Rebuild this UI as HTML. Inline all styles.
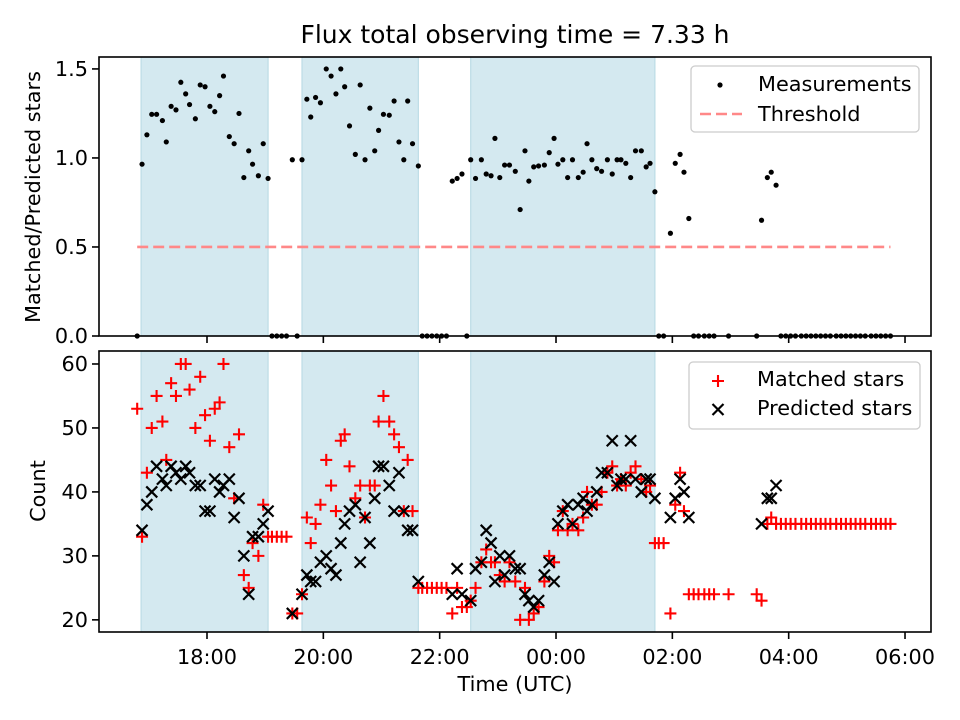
<!DOCTYPE html>
<html><head><meta charset="utf-8"><style>
html,body{margin:0;padding:0;background:#fff;}
svg{display:block;font-family:"DejaVu Sans","Liberation Sans",sans-serif;}
</style></head><body>
<svg id="chart" width="960" height="720" viewBox="0 0 960 720" xmlns="http://www.w3.org/2000/svg">
<rect x="0" y="0" width="960" height="720" fill="#fff"/>
<text x="515" y="43" font-size="25" text-anchor="middle">Flux total observing time = 7.33 h</text>
<g id="gtop"></g>
<g id="gbot"></g>
<text transform="translate(40,197) rotate(-90)" font-size="20.8" text-anchor="middle">Matched/Predicted stars</text>
<text transform="translate(45,491) rotate(-90)" font-size="20.8" text-anchor="middle">Count</text>
<text x="515" y="691" font-size="20.8" text-anchor="middle">Time (UTC)</text>
</svg>
<script>
// minutes after 16:00 UTC
const times=[48,53,58,63,68,74,78,83,88,93,98,102,108,113,118,123,128,133,137,143,148,153,158,163,167,173,178,183,187,192,197,202,208,213,218,223,227,232,237,243,248,253,258,262,267,273,278,283,288,293,297,302,308,313,318,323,327,332,338,342,347,352,357,362,367,373,378,383,388,392,397,403,408,413,417,422,427,432,438,443,448,452,457,462,468,473,478,482,487,492,497,503,508,512,517,522,527,533,538,543,547,552,557,562,568,573,577,582,586,591,598,603,608,612,617,622,627,633,638,643,658,687,692,698,702,707,712,717,722,727,733,738,743,748,753,758,763,769,774,779,784,789,794,799,805,810,815,820,825];
const ratio=[0,0.965,1.13,1.245,1.245,1.21,1.09,1.29,1.27,1.425,1.36,1.30,1.22,1.41,1.40,1.29,1.26,1.35,1.46,1.12,1.08,1.25,0.89,1.04,0.965,0.90,1.08,0.885,0,0,0,0,0.99,0,0.99,1.33,1.23,1.34,1.31,1.50,1.46,1.36,1.50,1.40,1.18,1.02,1.41,0.99,1.28,1.04,1.155,1.245,1.24,1.32,1.09,0.99,1.32,1.08,0.955,0,0,0,0,0,0,0.87,0.885,0.91,0,0.99,0.885,0.99,0.91,0.90,1.11,0.89,0.96,0.96,0.925,0.71,1.04,0.87,0.95,0.955,0.96,1.03,1.11,0.965,0.99,0.89,0.99,0.89,0.92,1.08,0.99,0.94,0.925,0.99,0.91,0.99,0.99,0.97,0.89,1.04,1.04,0.95,0.97,0.81,0,0,0.577,0.97,1.02,0.92,0.66,0,0,0,0,0,0,0,0.65,0.89,0.92,0.847,0,0,0,0,0,0,0,0,0,0,0,0,0,0,0,0,0,0,0,0,0,0,0];
const matched=[53,33,43,50,55,51,45,57,55,60,60,56,50,58,52,48,53,54,60,47,39,49,27,25,32,30,38,33,33,33,33,33,21,21,24,36,32,35,38,45,41,37,48,49,44,39,41,36,41,41,51,55,51,49,47,37,45,37,25,25,25,25,25,25,25,21,25,22,22,23,25,29,31,29,29,27,26,29,26,20,25,20,21,22,26,30,29,34,37,34,35,34,36,40,38,38,40,43,44,41,42,41,43,44,42,40,41,32,32,32,21,38,43,37,24,24,24,24,24,24,24,24,23,35,36,35,35,35,35,35,35,35,35,35,35,35,35,35,35,35,35,35,35,35,35,35,35,35,35];
const predicted=[null,34,38,40,44,42,41,44,43,42,44,43,41,41,37,37,42,40,41,42,36,39,30,24,33,33,35,37,null,null,null,null,21,null,24,27,26,26,29,30,28,27,32,35,37,38,29,36,32,39,44,44,41,37,43,37,34,34,26,null,null,null,null,null,null,24,28,24,null,23,28,29,34,32,26,30,27,30,28,28,24,23,22,23,27,29,26,35,37,38,35,38,39,37,38,40,43,43,48,41,42,42,48,42,40,42,42,39,null,null,36,39,42,40,36,null,null,null,null,null,null,null,35,39,39,41,null,null,null,null,null,null,null,null,null,null,null,null,null,null,null,null,null,null,null,null,null,null,null];
const spanStart=[52,218,392];
const spanEnd=[183,338,582];
const threshold=[0.5];
const thresholdRange=[48,825];
const xTicks=[120,240,360,480,600,720,840];
const xTickLabels=["18:00","20:00","22:00","00:00","02:00","04:00","06:00"];
const topTicks=[0,0.5,1.0,1.5];
const topTickLabels=["0.0","0.5","1.0","1.5"];
const botTicks=[20,30,40,50,60];
const botTickLabels=["20","30","40","50","60"];

const NS="http://www.w3.org/2000/svg";
const L=99,R=931,T1=57,B1=336,T2=351,B2=632;
const xMin=8.6,xMax=866.8;
function xs(t){return L+(t-xMin)/(xMax-xMin)*(R-L);}
function yt(v){return T1+(1.567-v)/1.567*(B1-T1);}
function yb(v){return T2+(62.03-v)/(62.03-18.1)*(B2-T2);}
function mk(tag,attrs,parent){const e=document.createElementNS(NS,tag);for(const k in attrs)e.setAttribute(k,attrs[k]);parent.appendChild(e);return e;}

const gTop=document.getElementById('gtop'), gBot=document.getElementById('gbot');

function spans(g,T,B){
  for(let i=0;i<spanStart.length;i++){
    const r=mk('rect',{x:xs(spanStart[i]),y:T,width:xs(spanEnd[i])-xs(spanStart[i]),height:B-T,fill:'#d4e9f0',stroke:'#bcdce6','stroke-width':1.2},g);
    
    
  }
}
spans(gTop,T1,B1); spans(gBot,T2,B2);

const th=mk('line',{x1:xs(thresholdRange[0]),x2:xs(thresholdRange[1]),y1:yt(threshold[0]),y2:yt(threshold[0]),stroke:'#f88','stroke-width':2.6,'stroke-dasharray':'11 5'},gTop);



for(let i=0;i<times.length;i++){
  const c=mk('circle',{cx:xs(times[i]),cy:yt(ratio[i]),r:2.6,fill:'#000'},gTop);
  
  
}
for(let i=0;i<times.length;i++){
  if(matched[i]==null)continue;
  const x=xs(times[i]),y=yb(matched[i]),s=6;
  const p=mk('path',{d:`M${x-s},${y}H${x+s}M${x},${y-s}V${y+s}`,stroke:'#f00','stroke-width':2.1,fill:'none'},gBot);
  
  
}
for(let i=0;i<times.length;i++){
  if(predicted[i]==null)continue;
  const x=xs(times[i]),y=yb(predicted[i]),s=5.5;
  const p=mk('path',{d:`M${x-s},${y-s}L${x+s},${y+s}M${x-s},${y+s}L${x+s},${y-s}`,stroke:'#000','stroke-width':2.2,fill:'none'},gBot);
  
  
}

function frame(g,T,B){
  const r=mk('rect',{x:L,y:T,width:R-L,height:B-T,fill:'none',stroke:'#000','stroke-width':1.6},g);
  
  
  for(let i=0;i<xTicks.length;i++){
    const x=xs(xTicks[i]);
    const t=mk('line',{x1:x,x2:x,y1:B,y2:B+7,stroke:'#000','stroke-width':1.6},g);
    
    
  }
}
frame(gTop,T1,B1); frame(gBot,T2,B2);
for(let i=0;i<xTicks.length;i++){
  const tx=mk('text',{x:xs(xTicks[i]),y:B2+32,'font-size':20.8,'text-anchor':'middle'},gBot);
  tx.textContent=xTickLabels[i];
  
  
}
function yticks(g,ticks,labels,f){
  for(let i=0;i<ticks.length;i++){
    const y=f(ticks[i]);
    const l=mk('line',{x1:L-7,x2:L,y1:y,y2:y,stroke:'#000','stroke-width':1.6},g);
    
    
    const tx=mk('text',{x:L-11,y:y+7,'font-size':20.8,'text-anchor':'end'},g);
    tx.textContent=labels[i];
    
    
  }
}
yticks(gTop,topTicks,topTickLabels,yt);
yticks(gBot,botTicks,botTickLabels,yb);

const lg1=mk('g',{},gTop);


mk('rect',{x:691,y:66,width:228,height:66,rx:4,fill:'#fff','fill-opacity':0.85,stroke:'#ccc','stroke-width':1.3},lg1);
const ld=mk('circle',{cx:720,cy:85,r:2.6,fill:'#000'},lg1);


const lt1=mk('text',{x:758,y:91,'font-size':20.8},lg1);lt1.textContent='Measurements';


const ll=mk('line',{x1:700,x2:742,y1:114,y2:114,stroke:'#f88','stroke-width':2.6,'stroke-dasharray':'11 5'},lg1);


const lt2=mk('text',{x:758,y:121,'font-size':20.8},lg1);lt2.textContent='Threshold';



const lg2=mk('g',{},gBot);


mk('rect',{x:689,y:362,width:231,height:67,rx:4,fill:'#fff','fill-opacity':0.85,stroke:'#ccc','stroke-width':1.3},lg2);
const pm=mk('path',{d:'M712,381H724M718,375V387',stroke:'#f00','stroke-width':2.1,fill:'none'},lg2);


const lt3=mk('text',{x:757,y:386,'font-size':20.8},lg2);lt3.textContent='Matched stars';


const xm=mk('path',{d:'M712.5,404L723.5,415M712.5,415L723.5,404',stroke:'#000','stroke-width':2.2,fill:'none'},lg2);


const lt4=mk('text',{x:757,y:415,'font-size':20.8},lg2);lt4.textContent='Predicted stars';


</script>
</body></html>
